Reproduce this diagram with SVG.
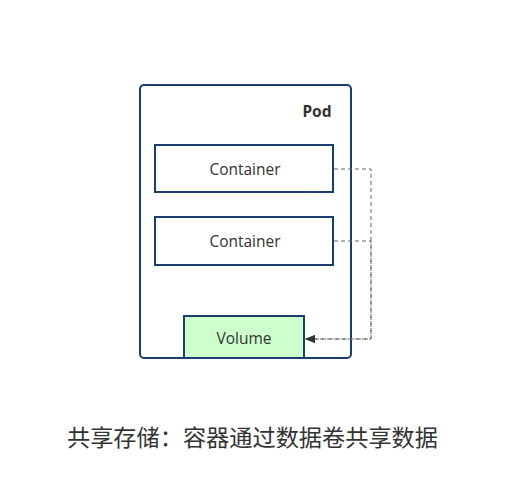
<svg xmlns="http://www.w3.org/2000/svg" width="505" height="487" viewBox="0 0 505 487">
<style>
.box{fill:#fff;stroke:#1b3e6f;stroke-width:2}
.lbl{font-family:"Open Sans","Noto Sans","Liberation Sans",sans-serif;font-size:15.5px;fill:#333;text-anchor:middle;dominant-baseline:central}
.dash{fill:none;stroke:#666;stroke-width:1;stroke-dasharray:4 3}
</style>
<defs>
<marker id="arr" markerWidth="10" markerHeight="8" refX="9" refY="4" orient="auto" markerUnits="userSpaceOnUse">
<path d="M0,0 L10,4 L0,8 Z" fill="#333"/>
</marker>
</defs>
<rect width="505" height="487" fill="#fff"/>
<g id="pod">
<rect class="box" x="140" y="85" width="211" height="273" rx="4"/>
<text x="317" y="111" class="lbl" style="font-weight:bold;font-size:15.5px;font-family:'Noto Sans','Liberation Sans',sans-serif">Pod</text>
</g>
<g id="container1">
<rect class="box" x="155" y="145" width="178" height="47"/>
<text x="245" y="169" class="lbl">Container</text>
</g>
<g id="container2">
<rect class="box" x="155" y="217" width="178" height="48"/>
<text x="245" y="241" class="lbl">Container</text>
</g>
<g id="volume">
<rect class="box" x="184" y="316" width="120" height="42" style="fill:#ccffcc"/>
<text x="244" y="338" class="lbl">Volume</text>
</g>
<g id="connectors">
<path class="dash" d="M334,169 H371 V339 H306" marker-end="url(#arr)"/>
<path class="dash" d="M334,241 H371 V339 H306" marker-end="url(#arr)"/>
</g>
<text x="252.5" y="436" style="font-family:'Noto Sans CJK SC',sans-serif;font-size:23.2px;fill:#333;text-anchor:middle;dominant-baseline:central">共享存储：容器通过数据卷共享数据</text>
</svg>
